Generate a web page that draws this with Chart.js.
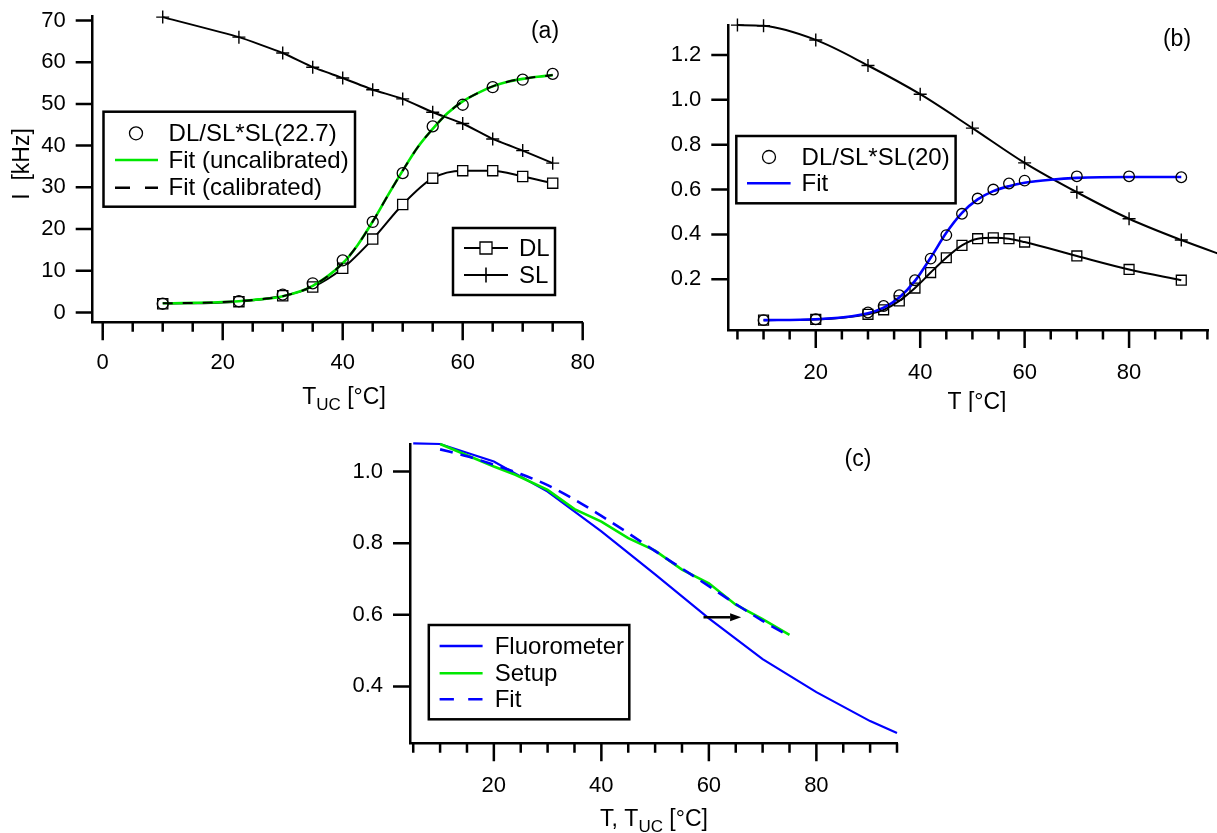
<!DOCTYPE html>
<html>
<head>
<meta charset="utf-8">
<script src="https://cdn.jsdelivr.net/npm/chart.js@4.4.1/dist/chart.umd.min.js"></script>
<style>
  html, body { margin: 0; padding: 0; background: #fff; }
  body { width: 1217px; height: 833px; position: relative; overflow: hidden; }
  .panel { position: absolute; overflow: hidden; }
  canvas { display: block; }
</style>
</head>
<body>
<div class="panel" style="left:0px;top:0px;width:600px;height:410px"><canvas id="chartA" width="600" height="410"></canvas></div>
<div class="panel" style="left:600px;top:0px;width:617px;height:412px"><canvas id="chartB" width="617" height="412"></canvas></div>
<div class="panel" style="left:340px;top:420px;width:577px;height:413px"><canvas id="chartC" width="577" height="413"></canvas></div>
<script>
// ---------- (a) intensities vs. upconverter temperature ----------
const tempA      = [10, 22.7, 30, 35, 40, 45, 50, 55, 60, 65, 70, 75];
const slA        = [70.8, 66.0, 62.2, 58.8, 56.2, 53.4, 51.2, 48.0, 45.3, 41.6, 38.8, 35.8];
const dlA        = [2.1, 2.6, 4.0, 6.1, 10.6, 17.6, 25.9, 32.2, 34.0, 34.0, 32.6, 31.0];
const dlNormA    = [2.1, 2.7, 4.3, 7.0, 12.5, 21.7, 33.4, 44.6, 49.8, 54.0, 55.8, 57.2];
const fitTempA   = [10, 15, 20, 25, 30, 35, 40, 42.5, 45, 47.5, 50, 52.5, 55, 57.5, 60, 62.5, 65, 67.5, 70, 72.5, 75];
const fitUncalA  = [2.2, 2.3, 2.5, 3.0, 3.9, 6.4, 11.8, 16.2, 21.8, 28.0, 34.0, 39.6, 44.0, 47.8, 50.6, 52.6, 54.2, 55.3, 56.0, 56.5, 56.9];
const fitCalA    = [2.2, 2.3, 2.5, 3.0, 3.9, 6.4, 11.8, 16.2, 21.8, 28.0, 34.0, 39.6, 44.0, 47.8, 50.6, 52.6, 54.2, 55.3, 56.0, 56.5, 56.9];
const xTicksA    = [0, 20, 40, 60, 80];
const xMinorA    = [5, 10, 15, 25, 30, 35, 45, 50, 55, 65, 70, 75];
const yTicksA    = [0, 10, 20, 30, 40, 50, 60, 70];

// ---------- (b) intensities vs. temperature ----------
const tempB      = [10, 20, 30, 33, 36, 39, 42, 45, 48, 51, 54, 57, 60, 70, 80, 90];
const dlB        = [0.018, 0.021, 0.044, 0.064, 0.104, 0.161, 0.230, 0.296, 0.351, 0.381, 0.385, 0.381, 0.366, 0.304, 0.244, 0.196];
const dlNormB    = [0.018, 0.022, 0.052, 0.081, 0.129, 0.196, 0.292, 0.397, 0.492, 0.560, 0.600, 0.627, 0.640, 0.659, 0.659, 0.655];
const tempSlB    = [5, 10, 20, 30, 40, 50, 60, 70, 80, 90, 100];
const slB        = [1.333, 1.330, 1.267, 1.153, 1.025, 0.874, 0.719, 0.588, 0.470, 0.375, 0.290];
const fitTempB   = [10, 20, 30, 33, 36, 39, 42, 45, 48, 51, 54, 57, 60, 65, 70, 80, 90];
const fitB       = [0.018, 0.022, 0.049, 0.074, 0.119, 0.193, 0.296, 0.407, 0.496, 0.556, 0.593, 0.615, 0.630, 0.644, 0.652, 0.656, 0.656];
const xTicksB    = [20, 40, 60, 80];
const xMinorB    = [5, 10, 15, 25, 30, 35, 45, 50, 55, 65, 70, 75, 85, 90, 95];
const yTicksB    = [0.2, 0.4, 0.6, 0.8, 1.0, 1.2];

// ---------- (c) normalised SL curves ----------
const tempFluor  = [5, 10, 20, 30, 40, 50, 60, 70, 80, 90, 95];
const fluor      = [1.079, 1.077, 1.028, 0.944, 0.833, 0.713, 0.590, 0.476, 0.384, 0.303, 0.270];
const tempSetup  = [10, 20, 24, 30, 35, 40, 45, 50, 55, 60, 65, 70, 75];
const setup      = [1.077, 1.014, 0.991, 0.949, 0.895, 0.860, 0.814, 0.779, 0.726, 0.688, 0.628, 0.588, 0.544];
const fitTempC   = [10, 15, 20, 25, 30, 35, 40, 45, 50, 55, 60, 65, 70, 75];
const fitC       = [1.062, 1.043, 1.019, 0.993, 0.962, 0.922, 0.876, 0.828, 0.778, 0.729, 0.680, 0.630, 0.583, 0.540];
const arrowTemp  = [59, 66];
const arrowLevel = [0.593, 0.593];
const xTicksC    = [20, 40, 60, 80];
const xMinorC    = [5, 10, 15, 25, 30, 35, 45, 50, 55, 65, 70, 75, 85, 90, 95];
const yTicksC    = [0.4, 0.6, 0.8, 1.0];

const FONT = "'Liberation Sans', Arial, sans-serif";
const GREEN = '#00e800';
const BLUE = '#0000ff';

const pts = (xs, ys) => xs.map((x, i) => ({ x, y: ys[i] }));

function drawMarker(ctx, style, x, y, r, fill) {
  ctx.beginPath();
  if (style === 'circle') {
    ctx.arc(x, y, r, 0, Math.PI * 2);
  } else if (style === 'rect') {
    const s = r * Math.SQRT1_2;
    ctx.rect(x - s, y - s, 2 * s, 2 * s);
  } else if (style === 'cross') {
    ctx.moveTo(x - r, y); ctx.lineTo(x + r, y);
    ctx.moveTo(x, y - r); ctx.lineTo(x, y + r);
  }
  if (fill) { ctx.fillStyle = fill; ctx.fill(); }
  ctx.stroke();
}

function drawRichText(ctx, parts, cx, cy, size) {
  const subSize = Math.round(size * 0.72);
  let total = 0;
  parts.forEach(p => {
    ctx.font = (p.sub ? subSize : size) + 'px ' + FONT;
    p.w = ctx.measureText(p.t).width;
    total += p.w;
  });
  let x = cx - total / 2;
  ctx.textAlign = 'left';
  ctx.textBaseline = 'middle';
  parts.forEach(p => {
    ctx.font = (p.sub ? subSize : size) + 'px ' + FONT;
    ctx.fillText(p.t, x, cy + (p.sub ? size * 0.3 : 0));
    x += p.w;
  });
}

// Igor-style decorations: tick marks, in-plot legends, axis titles, panel tag, arrow
const decor = {
  id: 'decor',
  afterDatasetsDraw(chart, args, o) {
    const ctx = chart.ctx;
    const area = chart.chartArea;
    const xs = chart.scales.x, ys = chart.scales.y;
    ctx.save();
    ctx.strokeStyle = '#000';
    ctx.fillStyle = '#000';
    ctx.lineCap = 'butt';
    ctx.lineWidth = 2.5;
    // tick marks
    ctx.beginPath();
    o.xMajor.forEach(v => { const p = xs.getPixelForValue(v); ctx.moveTo(p, area.bottom); ctx.lineTo(p, area.bottom + 18); });
    o.xMinor.forEach(v => { const p = xs.getPixelForValue(v); ctx.moveTo(p, area.bottom); ctx.lineTo(p, area.bottom + 9.5); });
    o.yMajor.forEach(v => { const p = ys.getPixelForValue(v); ctx.moveTo(area.left, p); ctx.lineTo(area.left - 17, p); });
    ctx.stroke();

    // arrow
    if (o.arrow) {
      const x1 = xs.getPixelForValue(o.arrow.x[0]), x2 = xs.getPixelForValue(o.arrow.x[1]);
      const y1 = ys.getPixelForValue(o.arrow.y[0]), y2 = ys.getPixelForValue(o.arrow.y[1]);
      const ang = Math.atan2(y2 - y1, x2 - x1);
      const hl = 11, hw = 4;
      ctx.lineWidth = 2.5;
      ctx.beginPath();
      ctx.moveTo(x1, y1);
      ctx.lineTo(x2 - hl * Math.cos(ang), y2 - hl * Math.sin(ang));
      ctx.stroke();
      ctx.beginPath();
      ctx.moveTo(x2, y2);
      ctx.lineTo(x2 - hl * Math.cos(ang) + hw * Math.sin(ang), y2 - hl * Math.sin(ang) - hw * Math.cos(ang));
      ctx.lineTo(x2 - hl * Math.cos(ang) - hw * Math.sin(ang), y2 - hl * Math.sin(ang) + hw * Math.cos(ang));
      ctx.closePath();
      ctx.fill();
    }

    // legends
    (o.legends || []).forEach(lg => {
      const [bx1, by1, bx2, by2] = lg.box;
      ctx.fillStyle = '#fff';
      ctx.fillRect(bx1, by1, bx2 - bx1, by2 - by1);
      ctx.strokeStyle = '#000';
      ctx.lineWidth = 2.5;
      ctx.setLineDash([]);
      ctx.strokeRect(bx1, by1, bx2 - bx1, by2 - by1);
      lg.rows.forEach(r => {
        if (r.line) {
          ctx.save();
          ctx.strokeStyle = r.line.color;
          ctx.lineWidth = r.line.width;
          ctx.setLineDash(r.line.dash || []);
          ctx.beginPath();
          ctx.moveTo(r.line.x1, r.y);
          ctx.lineTo(r.line.x2, r.y);
          ctx.stroke();
          ctx.restore();
        }
        if (r.marker) {
          ctx.save();
          ctx.strokeStyle = '#000';
          ctx.lineWidth = r.marker.lw || 1.3;
          drawMarker(ctx, r.marker.style, r.marker.x, r.y, r.marker.r, r.marker.fill);
          ctx.restore();
        }
        ctx.fillStyle = '#000';
        ctx.font = lg.fontSize + 'px ' + FONT;
        ctx.textAlign = 'left';
        ctx.textBaseline = 'middle';
        ctx.fillText(r.text, r.textX, r.y + 1);
      });
    });

    // axis titles
    ctx.fillStyle = '#000';
    if (o.xTitle) drawRichText(ctx, o.xTitle.parts, o.xTitle.x, o.xTitle.y, 23);
    if (o.yTitle) {
      ctx.save();
      ctx.translate(o.yTitle.x, o.yTitle.y);
      ctx.rotate(-Math.PI / 2);
      drawRichText(ctx, o.yTitle.parts, 0, 0, 23);
      ctx.restore();
    }
    // panel tag
    if (o.tag) {
      ctx.font = '23px ' + FONT;
      ctx.textAlign = 'center';
      ctx.textBaseline = 'middle';
      ctx.fillText(o.tag.text, o.tag.x, o.tag.y);
    }
    ctx.restore();
  }
};

function axis(min, max, ticks, fmt, pad, size, horizontal) {
  return {
    type: 'linear',
    min, max,
    border: { display: true, color: '#000', width: 2.5 },
    grid: { display: false, drawTicks: false },
    ticks: {
      color: '#000',
      font: { family: FONT, size: 22 },
      padding: pad,
      autoSkip: false,
      maxRotation: 0,
      callback: v => fmt(v)
    },
    afterBuildTicks: s => { s.ticks = ticks.map(v => ({ value: v })); },
    afterFit: s => {
      if (horizontal) s.height = size; else s.width = size;
      // keep the plot frame exactly where the layout padding puts it
      s.paddingTop = 0; s.paddingBottom = 0; s.paddingLeft = 0; s.paddingRight = 0;
    }
  };
}

function baseOptions(pad, xAxis, yAxis, decorOpts) {
  return {
    responsive: false,
    animation: false,
    events: [],
    layout: { padding: pad },
    scales: { x: xAxis, y: yAxis },
    plugins: { legend: { display: false }, tooltip: { enabled: false }, decor: decorOpts },
    elements: { point: { hitRadius: 0 } }
  };
}

const intFmt = v => String(Math.round(v));
const oneDec = v => v.toFixed(1);

// ---------- chart (a) ----------
new Chart(document.getElementById('chartA'), {
  type: 'line',
  data: {
    datasets: [
      { label: 'DL/SL*SL(22.7)', data: pts(tempA, dlNormA), showLine: false, pointStyle: 'circle', pointRadius: 5.5,
        pointBorderColor: '#000', pointBackgroundColor: 'rgba(0,0,0,0)', pointBorderWidth: 1.3, clip: false },
      { label: 'Fit (calibrated)', data: pts(fitTempA, fitCalA), borderColor: '#000', borderWidth: 2, borderDash: [10, 10],
        pointRadius: 0, cubicInterpolationMode: 'monotone', clip: false },
      { label: 'Fit (uncalibrated)', data: pts(fitTempA, fitUncalA), borderColor: GREEN, borderWidth: 2.6,
        pointRadius: 0, cubicInterpolationMode: 'monotone', clip: false },
      { label: 'DL', data: pts(tempA, dlA), borderColor: '#000', borderWidth: 2, pointStyle: 'rect', pointRadius: 7.2,
        pointBorderColor: '#000', pointBackgroundColor: '#fff', pointBorderWidth: 1.3, cubicInterpolationMode: 'monotone', clip: false },
      { label: 'SL', data: pts(tempA, slA), borderColor: '#000', borderWidth: 2, pointStyle: 'cross', pointRadius: 6.5,
        pointBorderColor: '#000', pointBorderWidth: 1.4, tension: 0.15, clip: false }
    ]
  },
  options: baseOptions(
    { left: 0, top: 16.7, right: 17.3, bottom: 0 },
    axis(-1.67, 80, xTicksA, intFmt, 27.8, 87.7, true),
    axis(-2.35, 70.9, yTicksA, intFmt, 27, 92.7, false),
    {
      xMajor: xTicksA, xMinor: xMinorA, yMajor: yTicksA,
      legends: [
        { box: [103.5, 111.7, 355, 206.7], fontSize: 24, rows: [
          { y: 133.3, marker: { style: 'circle', x: 136, r: 6.5 }, text: 'DL/SL*SL(22.7)', textX: 168.6 },
          { y: 160, line: { x1: 115, x2: 158, color: GREEN, width: 2.6 }, text: 'Fit (uncalibrated)', textX: 168.6 },
          { y: 187.7, line: { x1: 115, x2: 158, color: '#000', width: 2.6, dash: [15, 15] }, text: 'Fit (calibrated)', textX: 168.6 }
        ]},
        { box: [453, 228, 555, 295], fontSize: 24, rows: [
          { y: 248, line: { x1: 464, x2: 508, color: '#000', width: 2.2 }, marker: { style: 'rect', x: 486, r: 8.5, fill: '#fff' }, text: 'DL', textX: 519 },
          { y: 275, line: { x1: 464, x2: 508, color: '#000', width: 2.2 }, marker: { style: 'cross', x: 486, r: 7.5, lw: 1.6 }, text: 'SL', textX: 519 }
        ]}
      ],
      xTitle: { parts: [{ t: 'T' }, { t: 'UC', sub: true }, { t: ' [°C]' }], x: 344, y: 398 },
      yTitle: { parts: [{ t: 'I  [kHz]' }], x: 23, y: 164 },
      tag: { text: '(a)', x: 545, y: 32 }
    }
  ),
  plugins: [decor]
});

// ---------- chart (b) ----------
new Chart(document.getElementById('chartB'), {
  type: 'line',
  data: {
    datasets: [
      { label: 'DL/SL*SL(20)', data: pts(tempB, dlNormB), showLine: false, pointStyle: 'circle', pointRadius: 5.3,
        pointBorderColor: '#000', pointBackgroundColor: 'rgba(0,0,0,0)', pointBorderWidth: 1.3, clip: false },
      { label: 'Fit', data: pts(fitTempB, fitB), borderColor: BLUE, borderWidth: 2.6,
        pointRadius: 0, cubicInterpolationMode: 'monotone', clip: false },
      { label: 'DL', data: pts(tempB, dlB), borderColor: '#000', borderWidth: 2, pointStyle: 'rect', pointRadius: 7,
        pointBorderColor: '#000', pointBackgroundColor: 'rgba(255,255,255,0)', pointBorderWidth: 1.3, cubicInterpolationMode: 'monotone', clip: false },
      { label: 'SL', data: pts(tempSlB, slB), borderColor: '#000', borderWidth: 2, pointStyle: 'cross', pointRadius: 6.5,
        pointBorderColor: '#000', pointBorderWidth: 1.4, cubicInterpolationMode: 'monotone', clip: false }
    ]
  },
  options: baseOptions(
    { left: 0, top: 24.9, right: 0, bottom: 0 },
    axis(3.25, 95.25, xTicksB, intFmt, 29.5, 82, true),
    axis(-0.026, 1.334, yTicksB, oneDec, 27, 128.3, false),
    {
      xMajor: xTicksB, xMinor: xMinorB, yMajor: yTicksB,
      legends: [
        { box: [136.3, 136, 355.6, 203.3], fontSize: 24, rows: [
          { y: 157, marker: { style: 'circle', x: 169, r: 6.5 }, text: 'DL/SL*SL(20)', textX: 201.6 },
          { y: 183.3, line: { x1: 147, x2: 190.6, color: BLUE, width: 2.6 }, text: 'Fit', textX: 201.6 }
        ]}
      ],
      xTitle: { parts: [{ t: 'T [°C]' }], x: 377, y: 403 },
      tag: { text: '(b)', x: 577, y: 40 }
    }
  ),
  plugins: [decor]
});

// ---------- chart (c) ----------
new Chart(document.getElementById('chartC'), {
  type: 'line',
  data: {
    datasets: [
      { label: 'Fit', data: pts(fitTempC, fitC), borderColor: BLUE, borderWidth: 2.6, borderDash: [13, 8],
        pointRadius: 0, cubicInterpolationMode: 'monotone', clip: false },
      { label: 'Setup', data: pts(tempSetup, setup), borderColor: GREEN, borderWidth: 2.6,
        pointRadius: 0, tension: 0, clip: false },
      { label: 'Fluorometer', data: pts(tempFluor, fluor), borderColor: BLUE, borderWidth: 2.2,
        pointRadius: 0, tension: 0, clip: false }
    ]
  },
  options: baseOptions(
    { left: 0, top: 24, right: 20, bottom: 0 },
    axis(4.4, 95, xTicksC, intFmt, 29.5, 89.7, true),
    axis(0.241, 1.077, yTicksC, oneDec, 27, 70, false),
    {
      xMajor: xTicksC, xMinor: xMinorC, yMajor: yTicksC,
      arrow: { x: arrowTemp, y: arrowLevel },
      legends: [
        { box: [88.8, 205, 289.3, 299.3], fontSize: 24, rows: [
          { y: 226, line: { x1: 99.6, x2: 142.6, color: BLUE, width: 2.6 }, text: 'Fluorometer', textX: 154.7 },
          { y: 253.3, line: { x1: 99.6, x2: 142.6, color: GREEN, width: 2.6 }, text: 'Setup', textX: 154.7 },
          { y: 279.3, line: { x1: 99.6, x2: 142.6, color: BLUE, width: 2.6, dash: [14.3, 14.3] }, text: 'Fit', textX: 154.7 }
        ]}
      ],
      xTitle: { parts: [{ t: 'T, T' }, { t: 'UC', sub: true }, { t: ' [°C]' }], x: 314, y: 400 },
      tag: { text: '(c)', x: 518, y: 40 }
    }
  ),
  plugins: [decor]
});
</script>
</body>
</html>
